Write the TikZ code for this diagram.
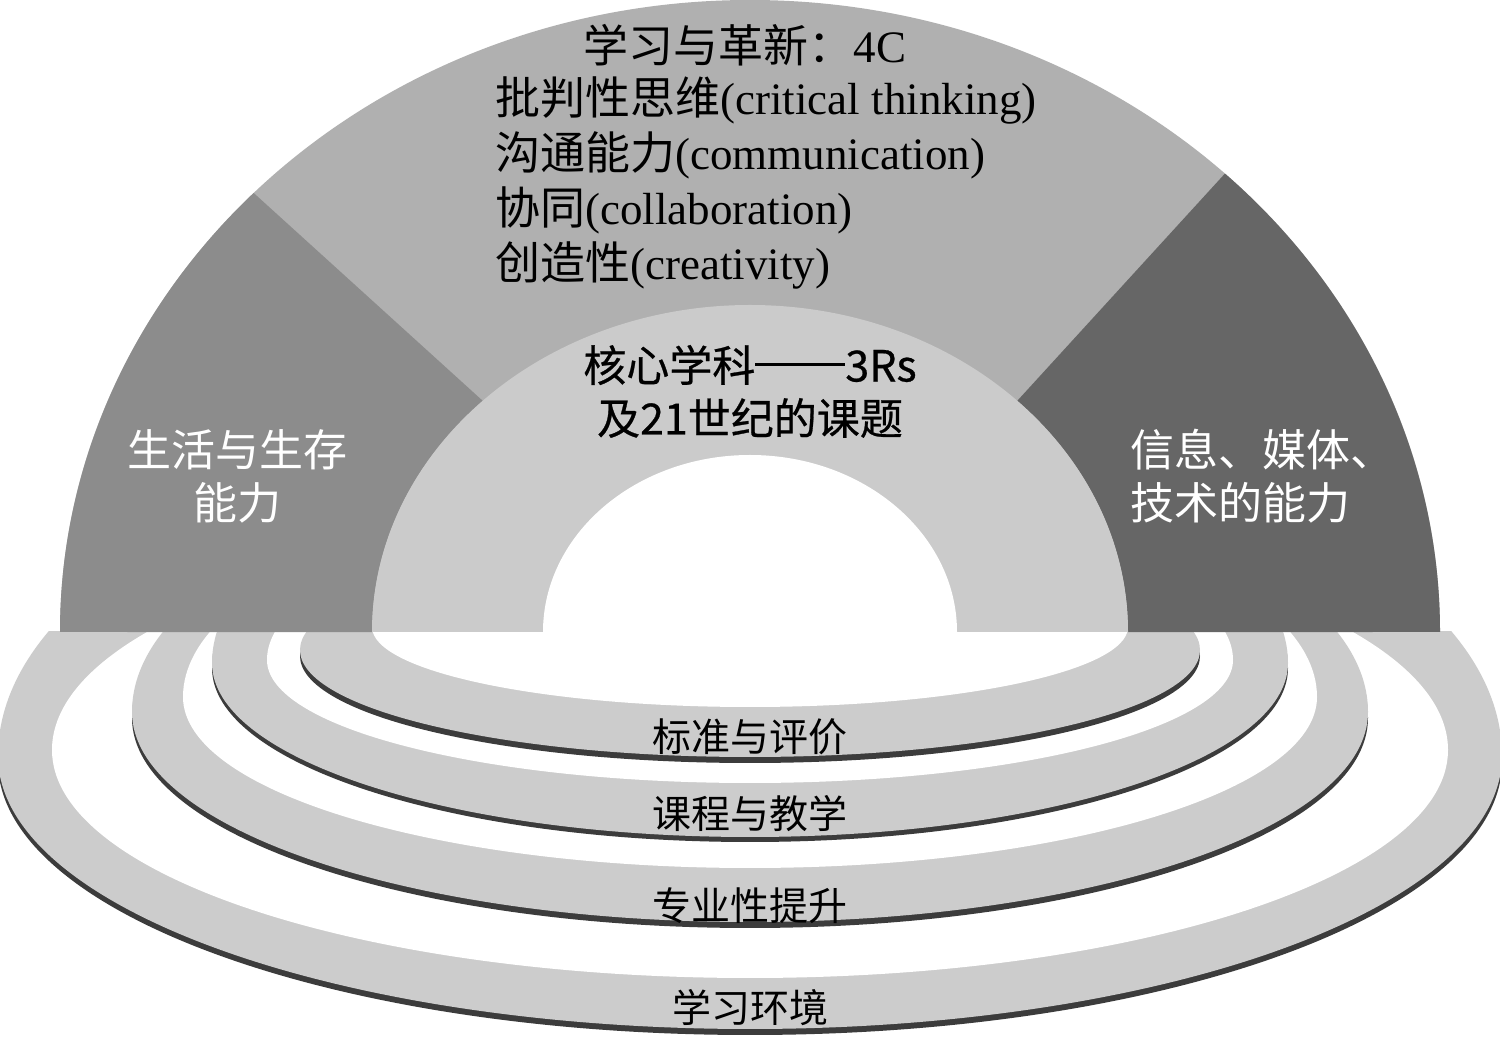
\documentclass[tikz,border=0pt]{standalone}
\usepackage{fontspec}
\setmainfont{Liberation Serif}
\newfontfamily\cjk{Noto Sans CJK SC}
\newfontfamily\cjkb[FakeBold=0.6]{Noto Sans CJK SC}
\newcommand{\ck}[1]{{\cjk #1}}
% lower half ellipse (radius #3) + upper half ellipse (radius #4), centre (750,#1), x radius #2
\newcommand{\eggpath}[4]{(750-#2,#1) arc[start angle=180,end angle=360,x radius=#2,y radius=#3] arc[start angle=0,end angle=180,x radius=#2,y radius=#4] -- cycle}
\definecolor{topgray}{HTML}{B0B0B0}
\definecolor{leftgray}{HTML}{8C8C8C}
\definecolor{rightgray}{HTML}{666666}
\definecolor{ringgray}{HTML}{CCCCCC}
\definecolor{coregray}{HTML}{CBCBCB}
\definecolor{shadowc}{HTML}{3C3C3C}
\begin{document}
\begin{tikzpicture}[x=0.5pt,y=0.5pt,
  fourc/.style={inner sep=0pt,font=\fontsize{22.5}{27}\selectfont,text=black},
  coretxt/.style={inner sep=0pt,font=\cjkb\fontsize{21.5}{26}\selectfont,text=black},
  sidetxt/.style={inner sep=0pt,font=\cjk\fontsize{22}{26}\selectfont,text=white},
  ringtxt/.style={inner sep=0pt,font=\cjk\fontsize{19.5}{23}\selectfont,text=black}]
\useasboundingbox (0,0) rectangle (1500,1039);
\fill[white] (0,0) rectangle (1500,1039);
% ---- rings (clipped below the flat edge)
\begin{scope}
\clip (0,0) rectangle (1500,407);
% ring 1: 学习环境
\fill[shadowc] \eggpath{277}{752}{273}{345};
\fill[ringgray] \eggpath{283}{752}{273}{345};
\fill[white] \eggpath{289}{698}{228}{234};
% ring 2: 专业性提升
\fill[shadowc] \eggpath{321}{618}{210}{256};
\fill[ringgray] \eggpath{327}{618}{210}{256};
\fill[white] \eggpath{342}{567}{171}{213};
% ring 3: 课程与教学
\fill[shadowc] \eggpath{371}{538}{174}{230};
\fill[ringgray] \eggpath{376}{538}{174}{230};
\fill[white] \eggpath{379}{483}{123}{155};
% ring 4: 标准与评价
\fill[shadowc] \eggpath{383}{450}{107}{107};
\fill[ringgray] \eggpath{389}{450}{107}{107};
\fill[white] \eggpath{412}{378}{80}{80};
\end{scope}
% ---- half disc
\fill[topgray] (60,407) arc[start angle=180,end angle=0,x radius=690,y radius=632] -- cycle;
\fill[leftgray] (60,407) arc[start angle=180,end angle=136,x radius=690,y radius=632]
  -- (482.7,638.2) arc[start angle=135,end angle=180,x radius=378,y radius=327] -- cycle;
\fill[rightgray] (1440,407) arc[start angle=0,end angle=46.5,x radius=690,y radius=632]
  -- (1017.3,638.2) arc[start angle=45,end angle=0,x radius=378,y radius=327] -- cycle;
\fill[coregray] (372,407) arc[start angle=180,end angle=0,x radius=378,y radius=327] -- cycle;
\fill[white] (543,407) arc[start angle=180,end angle=0,x radius=207,y radius=177] -- cycle;
% ---- texts
\node[fourc] (t0) at (745,994) {\ck{学习与革新：}4C};
\node[fourc,anchor=west] (t1) at (495,939) {\ck{批判性思维}(critical thinking)};
\node[fourc,anchor=west] (t2) at (495,884) {\ck{沟通能力}(communication)};
\node[fourc,anchor=west] (t3) at (495,829) {\ck{协同}(collaboration)};
\node[fourc,anchor=west] (t4) at (495,774) {\ck{创造性}(creativity)};
\node[coretxt] (core1) at (750,674) {核心学科\rule[0.37em]{45pt}{1.3pt}3Rs};
\node[coretxt] (core2) at (750,621) {及21世纪的课题};
\node[sidetxt] (life1) at (237,589) {生活与生存};
\node[sidetxt] (life2) at (237,536) {能力};
\node[sidetxt,anchor=west] (info1) at (1130,589) {信息、媒体、};
\node[sidetxt,anchor=west] (info2) at (1130,536) {技术的能力};
\node[ringtxt] (r4) at (750,302) {标准与评价};
\node[ringtxt] (r3) at (750,225) {课程与教学};
\node[ringtxt] (r2) at (750,133) {专业性提升};
\node[ringtxt] (r1) at (750,31) {学习环境};
\end{tikzpicture}
\end{document}
